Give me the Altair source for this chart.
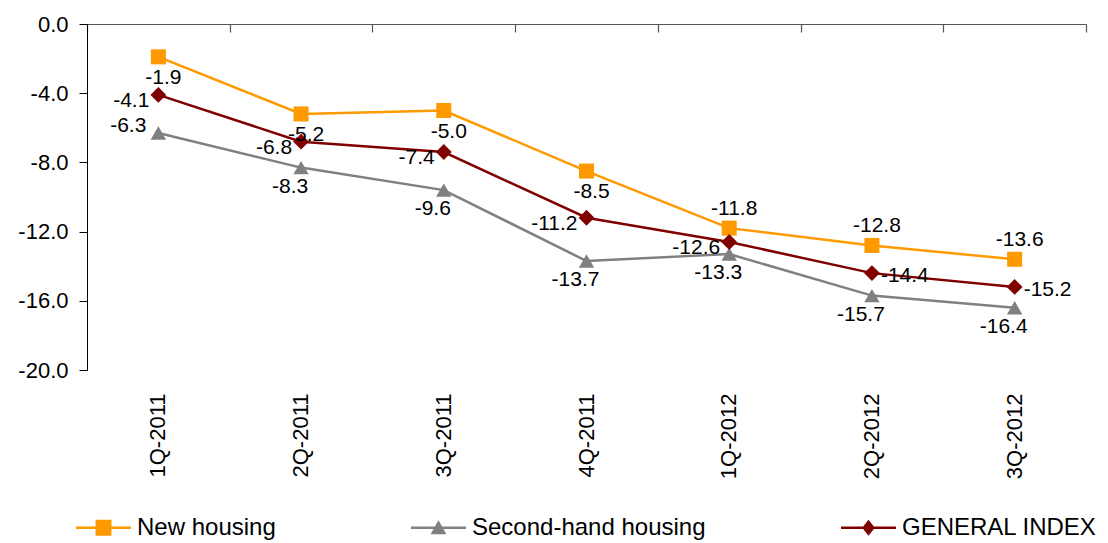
import altair as alt
import pandas as pd

# ---- data ----
quarters = ["1Q-2011", "2Q-2011", "3Q-2011", "4Q-2011", "1Q-2012", "2Q-2012", "3Q-2012"]
series_names = ["New housing", "Second-hand housing", "GENERAL INDEX"]
new_housing = [-1.9, -5.2, -5.0, -8.5, -11.8, -12.8, -13.6]
second_hand = [-6.3, -8.3, -9.6, -13.7, -13.3, -15.7, -16.4]
general_index = [-4.1, -6.8, -7.4, -11.2, -12.6, -14.4, -15.2]
y_ticks = [0, -4, -8, -12, -16, -20]

# label placement category per point (like Excel's label position setting)
place_new = ["below", "below", "below", "below", "above", "above", "above"]
place_second = ["upper-left", "below-left", "below-left", "below-left", "below-left", "below-left", "below-left"]
place_general = ["left", "left", "left", "left", "left", "right", "right"]

rows = []
for name, vals, places in [
    (series_names[0], new_housing, place_new),
    (series_names[1], second_hand, place_second),
    (series_names[2], general_index, place_general),
]:
    for q, v, p in zip(quarters, vals, places):
        rows.append({"quarter": q, "series": name, "value": v, "place": p})
df = pd.DataFrame(rows)

# ---- styles ----
FONT = "Liberation Sans"
colors = ["#FF9900", "#808080", "#800000"]
shapes = ["square", "triangle-up", "diamond"]
sizes = [225, 250, 175]
W, H = 999, 346

legend_paths = [
    "M-1,-0.045L1,-0.045L1,0.045L-1,0.045Z M-0.29,-0.29L0.29,-0.29L0.29,0.29L-0.29,0.29Z",
    "M-1,-0.045L1,-0.045L1,0.045L-1,0.045Z M0,-0.27L0.29,0.24L-0.29,0.24Z",
    "M-1,-0.045L1,-0.045L1,0.045L-1,0.045Z M0,-0.29L0.23,0L0,0.29L-0.23,0Z",
]

PLACEMENT = {
    "below": dict(dx=5, dy=21, align="center"),
    "above": dict(dx=5, dy=-19, align="center"),
    "left": dict(dx=-9, dy=6, align="right"),
    "right": dict(dx=9, dy=3, align="left"),
    "upper-left": dict(dx=-12, dy=-7, align="right"),
    "below-left": dict(dx=-11, dy=19, align="center"),
}

xscale = alt.Scale(type="band", domain=quarters, paddingInner=0, paddingOuter=0)
yscale = alt.Scale(domain=[-20, 0], nice=False, zero=False)
minus_fix = "replace(format(datum.value, '.1f'), '\u2212', '-')"

y_axis = alt.Axis(
    values=y_ticks, labelExpr=minus_fix, tickSize=8, labelPadding=11,
    labelFontSize=22, labelFont=FONT, labelColor="black",
    domainColor="black", tickColor="black", domainWidth=1, tickWidth=1,
    grid=False, title=None,
)
label_axis = alt.Axis(
    orient="bottom", domain=False, ticks=False, tickSize=0, labelAngle=-90,
    labelAlign="right", labelBaseline="middle", labelFontSize=22, labelFont=FONT,
    labelColor="black", labelPadding=23, grid=False, title=None,
)
frame_axis = alt.Axis(
    orient="bottom", offset=-H, labels=False, domain=True, ticks=True,
    tickBand="extent", tickSize=8, domainColor="#555555", tickColor="#555555",
    domainWidth=1.2, tickWidth=1.2, grid=False, title=None,
)

color_enc = alt.Color("series:N", scale=alt.Scale(domain=series_names, range=colors), legend=None)
Y = alt.Y("value:Q", scale=yscale, axis=y_axis)

lines = alt.Chart(df).mark_line(strokeWidth=2.5).encode(
    x=alt.X("quarter:N", scale=xscale, axis=label_axis, sort=quarters),
    y=Y,
    color=color_enc,
    order=alt.Order("quarter_idx:Q"),
).transform_calculate(quarter_idx="indexof(" + str(quarters) + ", datum.quarter)")

points = alt.Chart(df).mark_point(filled=True, opacity=1).encode(
    x=alt.X("quarter:N", scale=xscale, axis=None, sort=quarters),
    y=Y,
    color=color_enc,
    shape=alt.Shape("series:N", scale=alt.Scale(domain=series_names, range=shapes), legend=None),
    size=alt.Size("series:N", scale=alt.Scale(domain=series_names, range=sizes), legend=None),
)

texts = []
for key, p in PLACEMENT.items():
    texts.append(
        alt.Chart(df).transform_filter(alt.datum.place == key)
        .transform_calculate(lbl=minus_fix)
        .mark_text(fontSize=21, font=FONT, color="black", baseline="middle",
                   align=p["align"], dx=p["dx"], dy=p["dy"])
        .encode(
            x=alt.X("quarter:N", scale=xscale, axis=None, sort=quarters),
            y=Y,
            text="lbl:N",
        )
    )

legend_layer = alt.Chart(df).transform_filter("false").mark_point(filled=True, opacity=1).encode(
    x=alt.X("quarter:N", scale=xscale, axis=frame_axis, sort=quarters),
    y=Y,
    color=alt.Color(
        "series:N", scale=alt.Scale(domain=series_names, range=colors),
        legend=alt.Legend(
            orient="none", legendX=-11, legendY=476, direction="horizontal",
            title=None, labelFontSize=24, labelFont=FONT, labelColor="black",
            symbolSize=3025, symbolStrokeWidth=0, symbolOpacity=1,
            labelOffset=6, columnPadding=135, labelLimit=0, padding=0,
        ),
    ),
    shape=alt.Shape("series:N", scale=alt.Scale(domain=series_names, range=legend_paths)),
)

chart = alt.layer(lines, points, *texts, legend_layer).resolve_scale(
    color="independent", shape="independent"
).resolve_axis(x="independent").properties(
    width=W, height=H,
    autosize=alt.AutoSizeParams(type="none"),
    padding={"left": 79, "top": 16, "right": 14, "bottom": 170},
    background="white",
).configure_view(stroke=None)

chart.save("out.html", embed_options={"renderer": "svg", "actions": False})
